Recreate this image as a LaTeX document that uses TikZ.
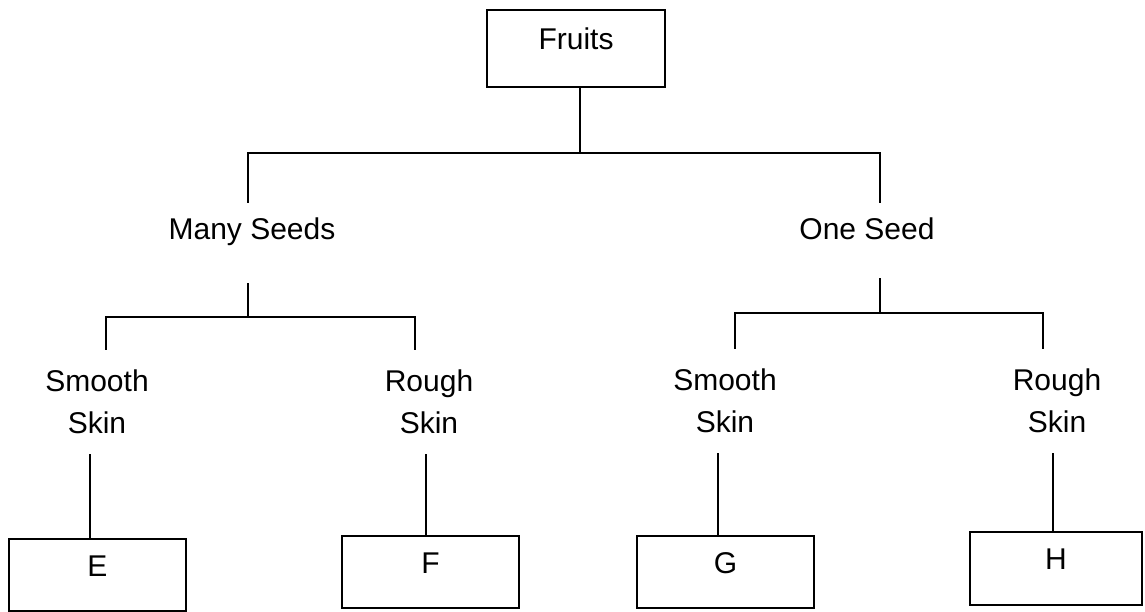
\documentclass[tikz,border=0pt]{standalone}
\usepackage{fontspec}
\setmainfont{Liberation Sans}
\usetikzlibrary{positioning}

\begin{document}
\begin{tikzpicture}[x=0.5pt,y=-0.5pt,
    every node/.style={font=\fontsize{15}{21}\selectfont},
    box/.style={rectangle,draw,line width=1.2pt,inner sep=0pt,minimum width=88.5pt,minimum height=36pt,text height=11pt,text depth=9.75pt},
    lbl/.style={inner xsep=0pt,inner ysep=7pt,text height=11pt,text depth=0pt},
    lbltwo/.style={align=center,inner xsep=0pt,inner ysep=10pt},
    link/.style={line width=1.2pt}]
    \useasboundingbox (0,0) rectangle (1145,611);
    % junctions of the tree
    \coordinate (j0) at (580,153);
    \coordinate (j1) at (248,317);
    \coordinate (j2) at (880,313);
    \node at (576,48.5) [box,minimum width=89pt,minimum height=38.5pt] (fruits) {Fruits};
    \node at (252,228) [lbl] (many) {Many Seeds};
    \node at (867,228) [lbl] (one) {One Seed};
    \node at (97,402) [lbltwo] (sl) {Smooth\\Skin};
    \node at (429,402) [lbltwo] (rl) {Rough\\Skin};
    \node at (725,401) [lbltwo] (sr) {Smooth\\Skin};
    \node at (1057,401) [lbltwo] (rr) {Rough\\Skin};
    \node at (97.5,575) [box] (e) {E};
    \node at (430.5,572) [box] (f) {F};
    \node at (725.5,572) [box] (g) {G};
    \node at (1056,568.5) [box,minimum width=86pt,minimum height=36.5pt] (h) {H};
    \draw[link] (fruits.south -| j0) -- (j0);
    \draw[link] (many.north -| j1) |- (j0) -| (one.north -| j2);
    \draw[link] (many.south -| j1) ++(0,30) -- (j1);
    \draw[link] (one.south -| j2) ++(0,25) -- (j2);
    \draw[link] (sl.north -| 106,0) |- (j1) -| (rl.north -| 415,0);
    \draw[link] (sr.north -| 735,0) |- (j2) -| (rr.north -| 1043,0);
    \foreach \a/\b/\x in {sl/e/90,rl/f/426,sr/g/718,rr/h/1053} {
        \draw[link] (\a.south -| \x,0) -- (\b.north -| \x,0);
    }
\end{tikzpicture}
\end{document}
